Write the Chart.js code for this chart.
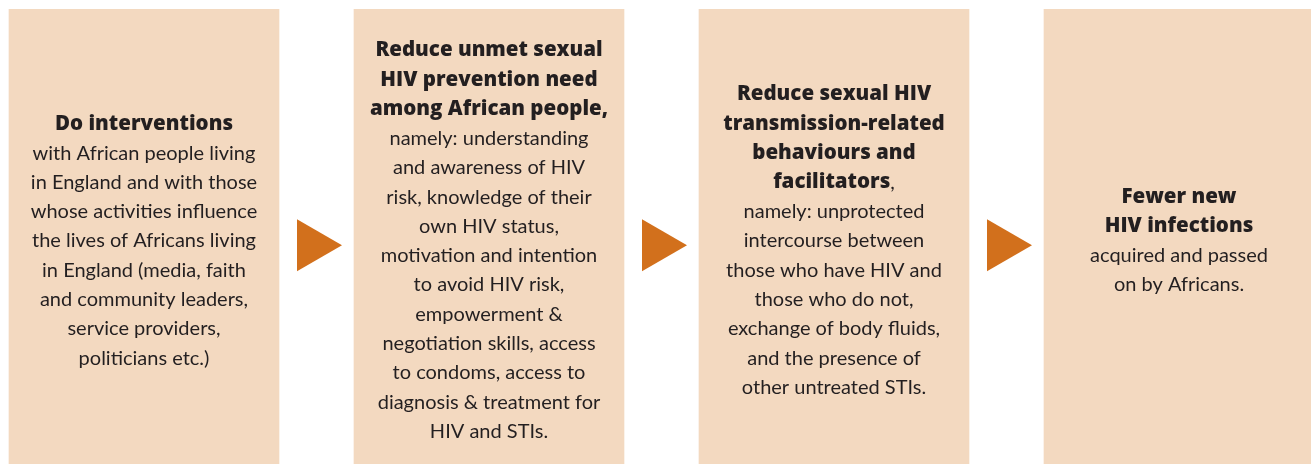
<!DOCTYPE html>
<html>
<head>
<meta charset="utf-8">
<script src="https://cdn.jsdelivr.net/npm/chart.js@4/dist/chart.umd.min.js"></script>
<style>
  html, body { margin: 0; padding: 0; background: #fff; }
  #wrap { width: 1311px; height: 464px; }
</style>
</head>
<body>
<div id="wrap"><canvas id="flowChart"></canvas></div>
<script>
// four stages of the pathway, left to right
const stagePos = [0, 1, 2, 3];
const stageHeight = [1, 1, 1, 1];

const stageTitles = [
  ["Do interventions"],
  ["Reduce unmet sexual", "HIV prevention need", "among African people,"],
  ["Reduce sexual HIV", "transmission-related", "behaviours and", "facilitators"],
  ["Fewer new", "HIV infections"]
];
// regular-weight text stuck onto the last title line
const titleTail = ["", "", ",", ""];

const stageBodies = [
  ["with African people living", "in England and with those", "whose activities influence",
   "the lives of Africans living", "in England (media, faith", "and community leaders,",
   "service providers,", "politicians etc.)"],
  ["namely: understanding", "and awareness of HIV", "risk, knowledge of their",
   "own HIV status,", "motivation and intention", "to avoid HIV risk,", "empowerment &",
   "negotiation skills, access", "to condoms, access to", "diagnosis & treatment for",
   "HIV and STIs."],
  ["namely: unprotected", "intercourse between", "those who have HIV and",
   "those who do not,", "exchange of body fluids,", "and the presence of",
   "other untreated STIs."],
  ["acquired and passed", "on by Africans."]
];

// arrows sit between the boxes
const arrowX = [0.487, 1.487, 2.487];
const arrowY = [0.481, 0.481, 0.481];

const boxColor = "#F3D9C0";
const arrowColor = "#D2701C";
const textColor = "#231F20";
const bodyFont = "20px Lato, 'Open Sans', sans-serif";
const titleFont = "800 20.5px 'Open Sans', Lato, sans-serif";

const textPlugin = {
  id: "boxText",
  afterDatasetsDraw(chart) {
    const ctx = chart.ctx;
    const bars = chart.getDatasetMeta(0).data;
    const lineH = 29.3;
    const midY = 241;

    bars.forEach((bar, i) => {
      const title = stageTitles[i];
      const body = stageBodies[i];
      const total = title.length + body.length;
      let y = midY - (total - 1) * lineH / 2;

      ctx.save();
      ctx.fillStyle = textColor;
      ctx.textBaseline = "middle";

      title.forEach((line, j) => {
        ctx.font = titleFont;
        const tail = j === title.length - 1 ? titleTail[i] : "";
        if (tail) {
          const w1 = ctx.measureText(line).width;
          ctx.font = bodyFont;
          const w2 = ctx.measureText(tail).width;
          const start = bar.x - (w1 + w2) / 2;
          ctx.textAlign = "left";
          ctx.font = titleFont;
          ctx.fillText(line, start, y);
          ctx.font = bodyFont;
          ctx.fillText(tail, start + w1, y);
        } else {
          ctx.textAlign = "center";
          ctx.fillText(line, bar.x, y);
        }
        y += lineH;
      });

      ctx.font = bodyFont;
      ctx.textAlign = "center";
      body.forEach(line => {
        ctx.fillText(line, bar.x, y);
        y += lineH;
      });
      ctx.restore();
    });
  }
};

const ctx = document.getElementById("flowChart");

new Chart(ctx, {
  type: "bar",
  data: {
    datasets: [
      {
        label: "Stages",
        data: stagePos.map((x, i) => ({ x: x, y: stageHeight[i] })),
        backgroundColor: boxColor,
        borderWidth: 0,
        barThickness: 270
      },
      {
        type: "scatter",
        label: "Arrows",
        data: arrowX.map((x, i) => ({ x: x, y: arrowY[i] })),
        pointStyle: "triangle",
        rotation: 90,
        radius: 30,
        backgroundColor: arrowColor,
        borderWidth: 0
      }
    ]
  },
  options: {
    responsive: true,
    maintainAspectRatio: false,
    animation: false,
    layout: { autoPadding: false, padding: { top: 9, left: 0, right: 0, bottom: 0 } },
    plugins: {
      legend: { display: false },
      tooltip: { enabled: false }
    },
    scales: {
      x: {
        type: "linear",
        display: false,
        offset: false,
        min: -144 / 345,
        max: -144 / 345 + 1311 / 345
      },
      y: {
        display: false,
        min: 0,
        max: 1
      }
    }
  },
  plugins: [textPlugin]
});
</script>
</body>
</html>
